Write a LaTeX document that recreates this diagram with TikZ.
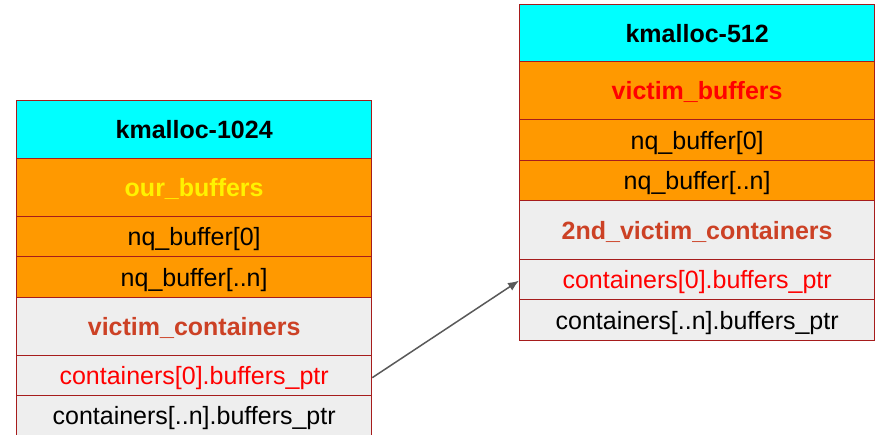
\documentclass[tikz,border=0pt]{standalone}
\usepackage{fontspec}
\setmainfont{Liberation Sans}
\usetikzlibrary{arrows.meta}
\definecolor{hdr}{HTML}{00FFFF}
\definecolor{org}{HTML}{FF9900}
\definecolor{lgr}{HTML}{EEEEEE}
\definecolor{brd}{HTML}{A61C1C}
\definecolor{berry}{HTML}{CC4125}
\definecolor{arr}{HTML}{595959}
\tikzset{
  memcell/.style={draw=brd, line width=1.3pt, minimum width=355pt, inner sep=0pt,
    anchor=north west, text height=17.9pt, text depth=0pt,
    font=\fontsize{25}{30}\selectfont},
  hdrcell/.style={memcell, fill=hdr, minimum height=58pt, font=\fontsize{25}{30}\selectfont\bfseries},
  orgtitle/.style={memcell, fill=org, minimum height=58pt, font=\fontsize{25}{30}\selectfont\bfseries},
  orgrow/.style={memcell, fill=org, minimum height=40pt},
  graytitle/.style={memcell, fill=lgr, minimum height=58pt, text=berry, font=\fontsize{25}{30}\selectfont\bfseries},
  grayrow/.style={memcell, fill=lgr, minimum height=40pt},
  ptrarrow/.style={draw=arr, line width=1.5pt, -{Latex[length=11pt,width=9pt]}}
}
\begin{document}
\begin{tikzpicture}[x=1pt,y=-1pt]
\useasboundingbox (0,0) rectangle (875,434);
\clip (0,0) rectangle (875,434);
% left table
\node[hdrcell] (lh) at (16,100) {kmalloc-1024};
\node[orgtitle, text=yellow] (lob) at (16,158) {our\_buffers};
\node[orgrow] (lnq0) at (16,216) {nq\_buffer[0]};
\node[orgrow, minimum height=41pt] (lnqn) at (16,256) {nq\_buffer[..n]};
\node[graytitle] (lvc) at (16,297) {victim\_containers};
\node[grayrow, text=red] (lc0) at (16,355) {containers[0].buffers\_ptr};
\node[grayrow] (lcn) at (16,395) {containers[..n].buffers\_ptr};
% right table
\node[hdrcell, minimum height=57pt] (rh) at (519,4) {kmalloc-512};
\node[orgtitle, text=red] (rvb) at (519,61) {victim\_buffers};
\node[orgrow, minimum height=41pt] (rnq0) at (519,119) {nq\_buffer[0]};
\node[orgrow] (rnqn) at (519,160) {nq\_buffer[..n]};
\node[graytitle, minimum height=59pt] (rvc) at (519,200) {2nd\_victim\_containers};
\node[grayrow, text=red] (rc0) at (519,259) {containers[0].buffers\_ptr};
\node[grayrow, minimum height=41pt] (rcn) at (519,299) {containers[..n].buffers\_ptr};
% pointer
\draw[ptrarrow] ([yshift=-2pt]lc0.east) -- ([yshift=-1pt]rc0.west);
\end{tikzpicture}
\end{document}
